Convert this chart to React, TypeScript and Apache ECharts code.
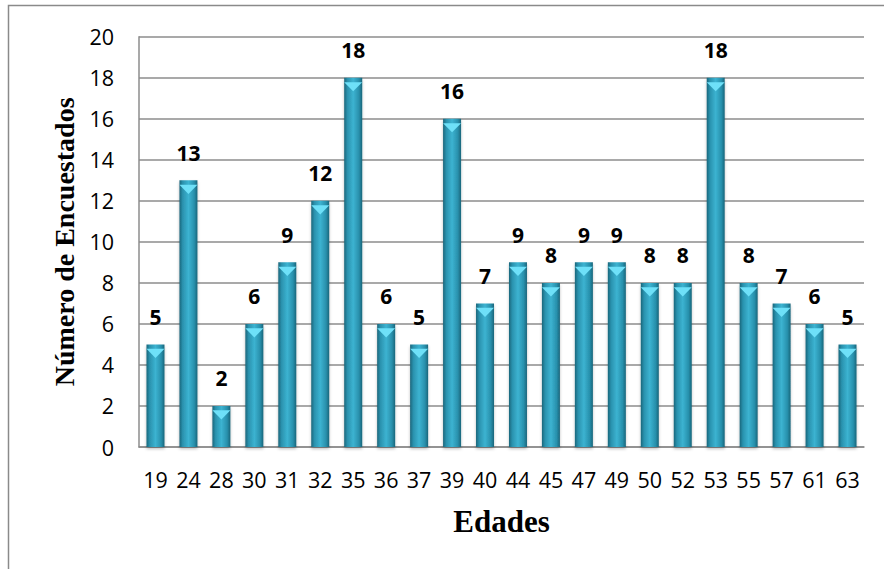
import React, { useEffect, useRef } from "react";
import * as echarts from "echarts";

// Ages surveyed and how many respondents gave each one
const edades: string[] = ["19", "24", "28", "30", "31", "32", "35", "36", "37", "39", "40", "44", "45", "47", "49", "50", "52", "53", "55", "57", "61", "63"];
const encuestados: number[] = [5, 13, 2, 6, 9, 12, 18, 6, 5, 16, 7, 9, 8, 9, 9, 8, 8, 18, 8, 7, 6, 5];

const yMin = 0;
const yMax = 20;
const yStep = 2;

const SANS = "'Open Sans', 'Noto Sans', sans-serif";
const SERIF = "'Liberation Serif', 'DejaVu Serif', serif";

export default function App() {
  const ref = useRef<HTMLDivElement>(null);

  useEffect(() => {
    if (!ref.current) return;
    const chart = echarts.init(ref.current, null, { renderer: "svg" });

    // cylinder-like shading across each bar
    const barFill = new echarts.graphic.LinearGradient(0, 0, 1, 0, [
      { offset: 0, color: "#1a667b" },
      { offset: 0.18, color: "#2a92ae" },
      { offset: 0.5, color: "#3cb3d1" },
      { offset: 0.82, color: "#2890ac" },
      { offset: 1, color: "#19657a" },
    ]);

    chart.setOption({
      animation: false,
      backgroundColor: "#ffffff",
      grid: { left: 139, right: 20, top: 36.7, bottom: 122, containLabel: false },
      graphic: [
        {
          type: "rect",
          shape: { x: 8.5, y: 5.5, width: 900, height: 620 },
          style: { fill: "none", stroke: "#8a8a8a", lineWidth: 1.5 },
          silent: true,
        },
      ],
      xAxis: {
        type: "category",
        data: edades,
        name: "Edades",
        nameLocation: "middle",
        nameGap: 59,
        nameTextStyle: { fontFamily: SERIF, fontWeight: "bold", fontSize: 31, color: "#000" },
        axisLine: { show: true, lineStyle: { color: "#8c8c8c", width: 1.5 } },
        axisTick: { show: false },
        axisLabel: { fontFamily: SANS, fontSize: 21.5, color: "#000", margin: 21, interval: 0 },
      },
      yAxis: {
        type: "value",
        min: yMin,
        max: yMax,
        interval: yStep,
        name: "Número de Encuestados",
        nameLocation: "middle",
        nameGap: 58,
        nameRotate: 90,
        nameTextStyle: { fontFamily: SERIF, fontWeight: "bold", fontSize: 28, color: "#000" },
        axisLine: { show: true, lineStyle: { color: "#8c8c8c", width: 1.5 } },
        axisTick: { show: false },
        axisLabel: { fontFamily: SANS, fontSize: 21.5, color: "#000", margin: 25 },
        splitLine: { show: true, lineStyle: { color: "#8c8c8c", width: 1.5 } },
      },
      series: [
        {
          type: "bar",
          data: encuestados,
          barWidth: 18,
          itemStyle: {
            color: barFill,
            shadowColor: "rgba(0,0,0,0.25)",
            shadowBlur: 3,
            shadowOffsetY: 2,
          },
          label: {
            show: true,
            position: "top",
            distance: 17,
            fontFamily: SANS,
            fontWeight: "bold",
            fontSize: 21,
            color: "#000",
          },
          z: 2,
        },
        {
          // lighter bevel on top of each bar
          type: "pictorialBar",
          data: encuestados,
          symbol: "path://M0,0 L10,0 L5,6 Z",
          symbolSize: [18, 9],
          symbolPosition: "end",
          symbolOffset: [0, "50%"],
          itemStyle: { color: "#6ee0f8" },
          silent: true,
          z: 3,
        },
      ],
    });

    return () => chart.dispose();
  }, []);

  return (
    <div
      ref={ref}
      style={{ position: "fixed", left: 0, top: 0, width: 884, height: 569, background: "#fff" }}
    />
  );
}
